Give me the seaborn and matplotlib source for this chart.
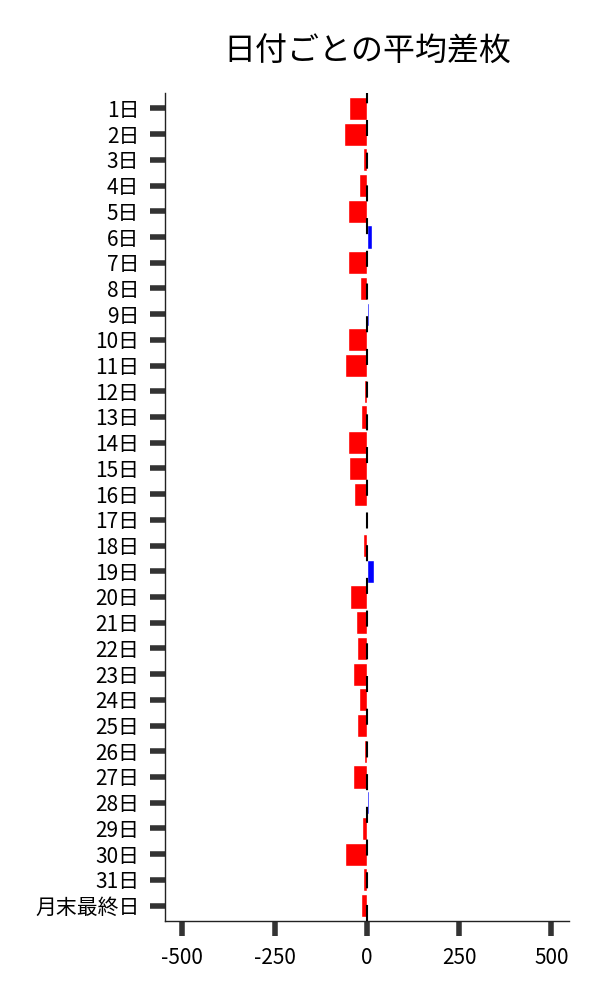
import seaborn as sns
import matplotlib.pyplot as plt
import pandas as pd

days = [f'{i}日' for i in range(1, 32)] + ['月末最終日']
diffs = [-49, -62, -11, -22, -51, 13, -51, -19, 7, -51, -60,
         -8, -16, -51, -49, -35, 0, -11, 18, -46, -30, -27,
         -38, -22, -27, -8, -38, 7, -14, -59, -11, -16]

df = pd.DataFrame({'day': days, 'diff': diffs})
colors = ['#0000ff' if v > 0 else '#ff0000' for v in diffs]

sns.set_style('ticks')
plt.rcParams['font.family'] = ['Noto Sans CJK JP', 'DejaVu Sans']
plt.rcParams['axes.unicode_minus'] = False

fig = plt.figure(figsize=(6, 10), dpi=100)
ax = fig.add_axes([0.275, 0.079, 0.673, 0.828])

sns.barplot(data=df, x='diff', y='day', hue='day', palette=colors,
            legend=False, width=0.9, saturation=1, ax=ax)
ax.axvline(0, color='black', linewidth=1.5, dashes=(7.7, 8), zorder=5)

ax.set_xlim(-547, 547)
ax.set_ylim(31.6, -0.6)
ax.set_xticks([-500, -250, 0, 250, 500])
ax.set_xlabel('')
ax.set_ylabel('')
ax.set_title('日付ごとの平均差枚', fontsize=23, pad=23, color='black')

ax.tick_params(axis='both', length=10.5, width=4, color='#333333',
               labelsize=15, labelcolor='black')
ax.tick_params(axis='y', pad=8)
ax.tick_params(axis='x', pad=8)
for s in ['left', 'bottom']:
    ax.spines[s].set_linewidth(1)
    ax.spines[s].set_color('#222222')
sns.despine(ax=ax)

fig.savefig('out.png', dpi=100)
